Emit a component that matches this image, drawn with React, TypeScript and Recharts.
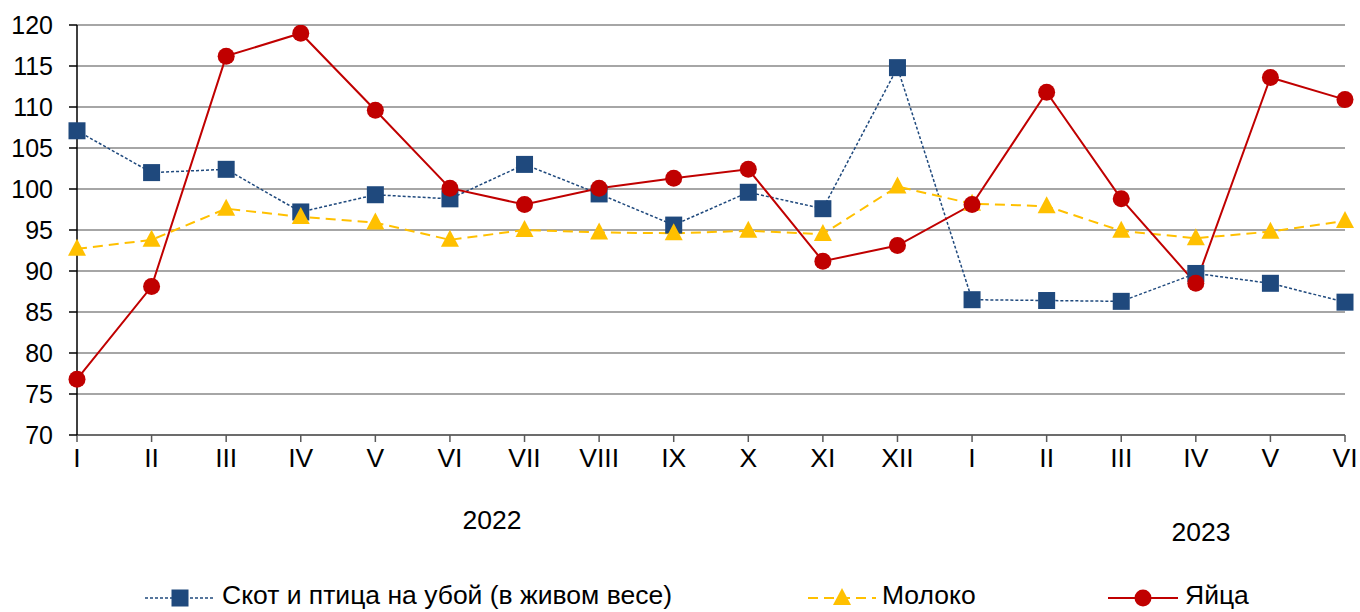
import React from "react";
import { LineChart, Line, XAxis, YAxis, CartesianGrid } from "recharts";

const months = ["I", "II", "III", "IV", "V", "VI", "VII", "VIII", "IX", "X", "XI", "XII", "I", "II", "III", "IV", "V", "VI"];
const livestock = [107.1, 102.0, 102.4, 97.2, 99.3, 98.8, 103.0, 99.4, 95.6, 99.6, 97.6, 114.8, 86.5, 86.4, 86.3, 89.7, 88.5, 86.2];
const milk = [92.7, 93.8, 97.6, 96.6, 95.9, 93.8, 95.0, 94.7, 94.6, 94.9, 94.5, 100.3, 98.2, 97.9, 94.9, 94.0, 94.8, 96.1];
const eggs = [76.8, 88.1, 116.2, 119.0, 109.6, 100.1, 98.1, 100.1, 101.3, 102.4, 91.2, 93.1, 98.1, 111.8, 98.8, 88.5, 113.6, 110.9];
const yTicks = [70, 75, 80, 85, 90, 95, 100, 105, 110, 115, 120];
const yearLabels = ["2022", "2023"];
const seriesNames = ["Скот и птица на убой (в живом весе)", "Молоко", "Яйца"];

const data = months.map((m, i) => ({
  idx: i,
  month: m,
  livestock: livestock[i],
  milk: milk[i],
  eggs: eggs[i],
}));

const FONT = "'Liberation Sans', Arial, sans-serif";
const BLUE = "#1F497D";
const YELLOW = "#FFC000";
const RED = "#C00000";
const TXT = 26.5;

const SquareDot = (props: any) => {
  const { cx, cy } = props;
  if (cx == null || cy == null) return null;
  return <rect x={cx - 8.5} y={cy - 8.5} width={17} height={17} fill={BLUE} />;
};
const TriangleDot = (props: any) => {
  const { cx, cy } = props;
  if (cx == null || cy == null) return null;
  return <polygon points={`${cx},${cy - 10} ${cx + 9},${cy + 7} ${cx - 9},${cy + 7}`} fill={YELLOW} />;
};
const CircleDot = (props: any) => {
  const { cx, cy } = props;
  if (cx == null || cy == null) return null;
  return <circle cx={cx} cy={cy} r={8.5} fill={RED} />;
};

export default function App() {
  return (
    <div style={{ position: "absolute", left: 0, top: 0, width: 1360, height: 612, background: "#fff", fontFamily: FONT }}>
      <LineChart
        width={1360}
        height={612}
        data={data}
        margin={{ top: 25, right: 15, bottom: 0, left: 0 }}
      >
        <CartesianGrid vertical={false} stroke="#A6A6A6" strokeWidth={2} />
        <XAxis
          dataKey="idx"
          type="category"
          height={177}
          tickFormatter={(v: any) => months[v]}
          interval={0}
          tickSize={7}
          tickMargin={6}
          stroke="#595959"
          strokeWidth={1.5}
          tick={{ fill: "#000", fontSize: TXT, fontFamily: FONT }}
          tickLine={{ stroke: "#595959" }}
        />
        <YAxis
          domain={[70, 120]}
          ticks={yTicks}
          interval={0}
          width={77}
          tickSize={8}
          tickMargin={16}
          stroke="#000"
          strokeWidth={1.5}
          tick={{ fill: "#000", fontSize: 25, fontFamily: FONT }}
          allowDataOverflow
        />
        <Line
          dataKey="livestock"
          stroke={BLUE}
          strokeWidth={1.5}
          strokeDasharray="3 2"
          dot={<SquareDot />}
          activeDot={false}
          isAnimationActive={false}
        />
        <Line
          dataKey="milk"
          stroke={YELLOW}
          strokeWidth={2}
          strokeDasharray="10 6"
          dot={<TriangleDot />}
          activeDot={false}
          isAnimationActive={false}
        />
        <Line
          dataKey="eggs"
          stroke={RED}
          strokeWidth={2}
          dot={<CircleDot />}
          activeDot={false}
          isAnimationActive={false}
        />
      </LineChart>
      <svg width={1360} height={612} style={{ position: "absolute", left: 0, top: 0, pointerEvents: "none" }}>
        <text x={492} y={520} textAnchor="middle" dominantBaseline="central" fontSize={TXT} fontFamily={FONT} fill="#000">{yearLabels[0]}</text>
        <text x={1201} y={532} textAnchor="middle" dominantBaseline="central" fontSize={TXT} fontFamily={FONT} fill="#000">{yearLabels[1]}</text>
        {/* legend */}
        <line x1={145} x2={214} y1={598} y2={598} stroke={BLUE} strokeWidth={1.5} strokeDasharray="3 2" />
        <rect x={171.5} y={589.5} width={17} height={17} fill={BLUE} />
        <text x={222} y={604} fontSize={TXT} fontFamily={FONT} fill="#000">{seriesNames[0]}</text>
        <line x1={808} x2={876} y1={598} y2={598} stroke={YELLOW} strokeWidth={2} strokeDasharray="10 6" />
        <polygon points={`842,588 851,605 833,605`} fill={YELLOW} />
        <text x={882} y={604} fontSize={TXT} fontFamily={FONT} fill="#000">{seriesNames[1]}</text>
        <line x1={1108} x2={1178} y1={598} y2={598} stroke={RED} strokeWidth={2} />
        <circle cx={1143} cy={598} r={8.5} fill={RED} />
        <text x={1185} y={604} fontSize={TXT} fontFamily={FONT} fill="#000">{seriesNames[2]}</text>
      </svg>
    </div>
  );
}
